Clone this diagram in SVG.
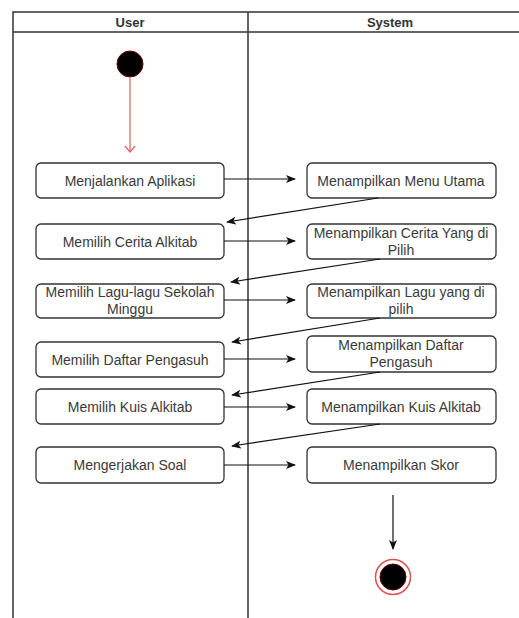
<svg xmlns="http://www.w3.org/2000/svg" width="519" height="618" viewBox="0 0 519 618">
<style>
.lane{fill:none;stroke:#333;stroke-width:1.5}
.box{fill:#fff;stroke:#333;stroke-width:1.3}
.t{font-family:"Liberation Sans",Arial,sans-serif;font-size:14px;fill:#3a3a3a;text-anchor:middle}
.h{font-family:"Liberation Sans",Arial,sans-serif;font-size:13px;font-weight:bold;fill:#333;text-anchor:middle}
.c{fill:none;stroke:#111;stroke-width:1.2}
</style>
<defs>
<marker id="ah" markerWidth="10" markerHeight="8" refX="9" refY="4" orient="auto" markerUnits="userSpaceOnUse">
<path d="M0,0 L10,4 L0,8 L2.5,4 Z" fill="#111"/>
</marker>
<marker id="ao" markerWidth="12" markerHeight="10" refX="6" refY="9" orient="0" markerUnits="userSpaceOnUse">
<path d="M1,3 L6,9 L11,3" fill="none" stroke="#e06060" stroke-width="1.2"/>
</marker>
</defs>
<rect width="519" height="618" fill="#fff"/>
<g id="lanes">
<path class="lane" d="M13,618 V12 H519 M13,32 H519 M248,12 V618"/>
<text class="h" x="130" y="27">User</text>
<text class="h" x="390" y="27">System</text>
</g>
<g id="start"><circle cx="130" cy="64" r="13" fill="#000" stroke="#600" stroke-width="1"/></g>
<g id="n1"><rect class="box" x="36" y="163" width="188" height="35" rx="5"/><text class="t" x="130" y="185.5">Menjalankan Aplikasi</text></g>
<g id="n2"><rect class="box" x="307" y="163" width="189" height="35" rx="5"/><text class="t" x="401" y="185.5">Menampilkan Menu Utama</text></g>
<g id="n3"><rect class="box" x="36" y="224" width="188" height="35" rx="5"/><text class="t" x="130" y="246.5">Memilih Cerita Alkitab</text></g>
<g id="n4"><rect class="box" x="307" y="224" width="189" height="35" rx="5"/><text class="t" x="401" y="237.5">Menampilkan Cerita Yang di</text><text class="t" x="401" y="255">Pilih</text></g>
<g id="n5"><rect class="box" x="36" y="284" width="188" height="34" rx="5"/><text class="t" x="130" y="297">Memilih Lagu-lagu Sekolah</text><text class="t" x="130" y="314">Minggu</text></g>
<g id="n6"><rect class="box" x="307" y="284" width="189" height="34" rx="5"/><text class="t" x="401" y="297">Menampilkan Lagu yang di</text><text class="t" x="401" y="314">pilih</text></g>
<g id="n7"><rect class="box" x="36" y="342" width="188" height="35" rx="5"/><text class="t" x="130" y="364.5">Memilih Daftar Pengasuh</text></g>
<g id="n8"><rect class="box" x="307" y="336" width="189" height="36" rx="5"/><text class="t" x="401" y="349.5">Menampilkan Daftar</text><text class="t" x="401" y="367">Pengasuh</text></g>
<g id="n9"><rect class="box" x="36" y="389" width="188" height="35" rx="5"/><text class="t" x="130" y="411.5">Memilih Kuis Alkitab</text></g>
<g id="n10"><rect class="box" x="307" y="389" width="189" height="35" rx="5"/><text class="t" x="401" y="411.5">Menampilkan Kuis Alkitab</text></g>
<g id="n11"><rect class="box" x="36" y="447" width="188" height="36" rx="5"/><text class="t" x="130" y="470">Mengerjakan Soal</text></g>
<g id="n12"><rect class="box" x="307" y="447" width="189" height="36" rx="5"/><text class="t" x="401" y="470">Menampilkan Skor</text></g>
<g id="end"><circle cx="393" cy="577" r="17.5" fill="#fff" stroke="#e05050" stroke-width="1.5"/><circle cx="393" cy="577" r="13" fill="#000" stroke="#600" stroke-width="1"/></g>
<g id="connectors">
<line x1="130" y1="78" x2="130" y2="152" stroke="#e06060" stroke-width="1.2" marker-end="url(#ao)"/>
<line class="c" x1="224" y1="179" x2="295" y2="179" marker-end="url(#ah)"/>
<line class="c" x1="224" y1="241" x2="295" y2="241" marker-end="url(#ah)"/>
<line class="c" x1="224" y1="300" x2="295" y2="300" marker-end="url(#ah)"/>
<line class="c" x1="224" y1="359" x2="295" y2="359" marker-end="url(#ah)"/>
<line class="c" x1="224" y1="407" x2="295" y2="407" marker-end="url(#ah)"/>
<line class="c" x1="224" y1="465" x2="295" y2="465" marker-end="url(#ah)"/>
<line class="c" x1="378" y1="198" x2="227" y2="222" marker-end="url(#ah)"/>
<line class="c" x1="380" y1="259" x2="231" y2="282" marker-end="url(#ah)"/>
<line class="c" x1="380" y1="318" x2="232" y2="342" marker-end="url(#ah)"/>
<line class="c" x1="380" y1="372" x2="232" y2="395" marker-end="url(#ah)"/>
<line class="c" x1="380" y1="424" x2="232" y2="446" marker-end="url(#ah)"/>
<line class="c" x1="393" y1="495" x2="393" y2="549" marker-end="url(#ah)"/>
</g>
</svg>
